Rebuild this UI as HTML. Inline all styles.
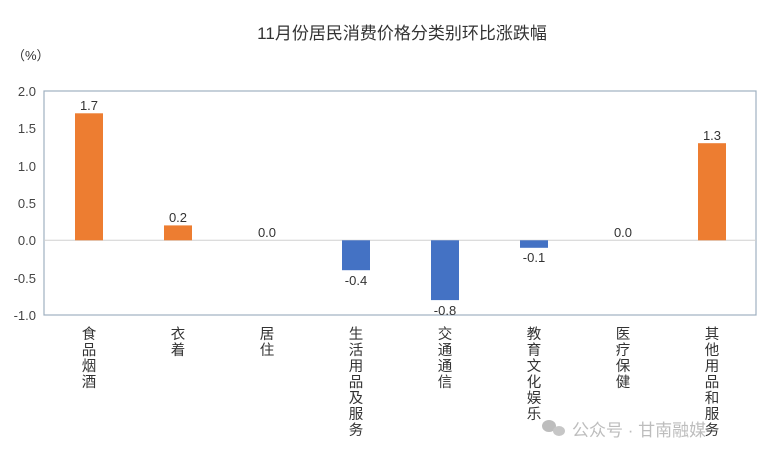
<!DOCTYPE html>
<html><head><meta charset="utf-8"><style>
body{margin:0;background:#fff;}
svg text{font-family:"Liberation Sans","Noto Sans CJK SC",sans-serif;}
</style></head><body>
<svg width="774" height="460" viewBox="0 0 774 460" xmlns="http://www.w3.org/2000/svg">
<rect width="774" height="460" fill="#fff"/>
<text x="402" y="39" font-size="17" text-anchor="middle" fill="#333">11月份居民消费价格分类别环比涨跌幅</text>
<text x="12" y="60" font-size="13" fill="#333">（%）</text>
<rect x="44" y="91" width="712" height="224" fill="none" stroke="#9fb0c0" stroke-width="1.2"/>
<line x1="44" y1="240.3" x2="756" y2="240.3" stroke="#d0d0d0" stroke-width="1"/>
<g font-size="13" fill="#444" text-anchor="end">
<text x="36" y="96">2.0</text><text x="36" y="133">1.5</text><text x="36" y="171">1.0</text>
<text x="36" y="208">0.5</text><text x="36" y="245">0.0</text><text x="36" y="283">-0.5</text><text x="36" y="320">-1.0</text>
</g>
<g>
<rect x="75" y="113.3" width="28" height="127" fill="#ed7d31"/>
<rect x="164" y="225.4" width="28" height="14.9" fill="#ed7d31"/>
<rect x="342" y="240.3" width="28" height="29.9" fill="#4472c4"/>
<rect x="431" y="240.3" width="28" height="59.8" fill="#4472c4"/>
<rect x="520" y="240.3" width="28" height="7.5" fill="#4472c4"/>
<rect x="698" y="143.2" width="28" height="97.1" fill="#ed7d31"/>
</g>
<g font-size="13" fill="#333" text-anchor="middle">
<text x="89" y="110">1.7</text><text x="178" y="222">0.2</text><text x="267" y="237">0.0</text>
<text x="356" y="285">-0.4</text><text x="445" y="315">-0.8</text><text x="534" y="262">-0.1</text>
<text x="623" y="237">0.0</text><text x="712" y="140">1.3</text>
</g>
<g font-size="14.5" fill="#333" text-anchor="middle">
<text x="89" y="339"><tspan x="89">食</tspan><tspan x="89" dy="16">品</tspan><tspan x="89" dy="16">烟</tspan><tspan x="89" dy="16">酒</tspan></text>
<text x="178" y="339"><tspan x="178">衣</tspan><tspan x="178" dy="16">着</tspan></text>
<text x="267" y="339"><tspan x="267">居</tspan><tspan x="267" dy="16">住</tspan></text>
<text x="356" y="339"><tspan x="356">生</tspan><tspan x="356" dy="16">活</tspan><tspan x="356" dy="16">用</tspan><tspan x="356" dy="16">品</tspan><tspan x="356" dy="16">及</tspan><tspan x="356" dy="16">服</tspan><tspan x="356" dy="16">务</tspan></text>
<text x="445" y="339"><tspan x="445">交</tspan><tspan x="445" dy="16">通</tspan><tspan x="445" dy="16">通</tspan><tspan x="445" dy="16">信</tspan></text>
<text x="534" y="339"><tspan x="534">教</tspan><tspan x="534" dy="16">育</tspan><tspan x="534" dy="16">文</tspan><tspan x="534" dy="16">化</tspan><tspan x="534" dy="16">娱</tspan><tspan x="534" dy="16">乐</tspan></text>
<text x="623" y="339"><tspan x="623">医</tspan><tspan x="623" dy="16">疗</tspan><tspan x="623" dy="16">保</tspan><tspan x="623" dy="16">健</tspan></text>
<text x="712" y="339"><tspan x="712">其</tspan><tspan x="712" dy="16">他</tspan><tspan x="712" dy="16">用</tspan><tspan x="712" dy="16">品</tspan><tspan x="712" dy="16">和</tspan><tspan x="712" dy="16">服</tspan><tspan x="712" dy="16">务</tspan></text>
</g>
<g opacity="0.55">
<ellipse cx="549" cy="426" rx="7" ry="6" fill="#888"/>
<ellipse cx="559" cy="431" rx="6" ry="5" fill="#999"/>
<text x="572" y="436" font-size="17" fill="#888">公众号 · 甘南融媒</text>
</g>
</svg>
</body></html>
